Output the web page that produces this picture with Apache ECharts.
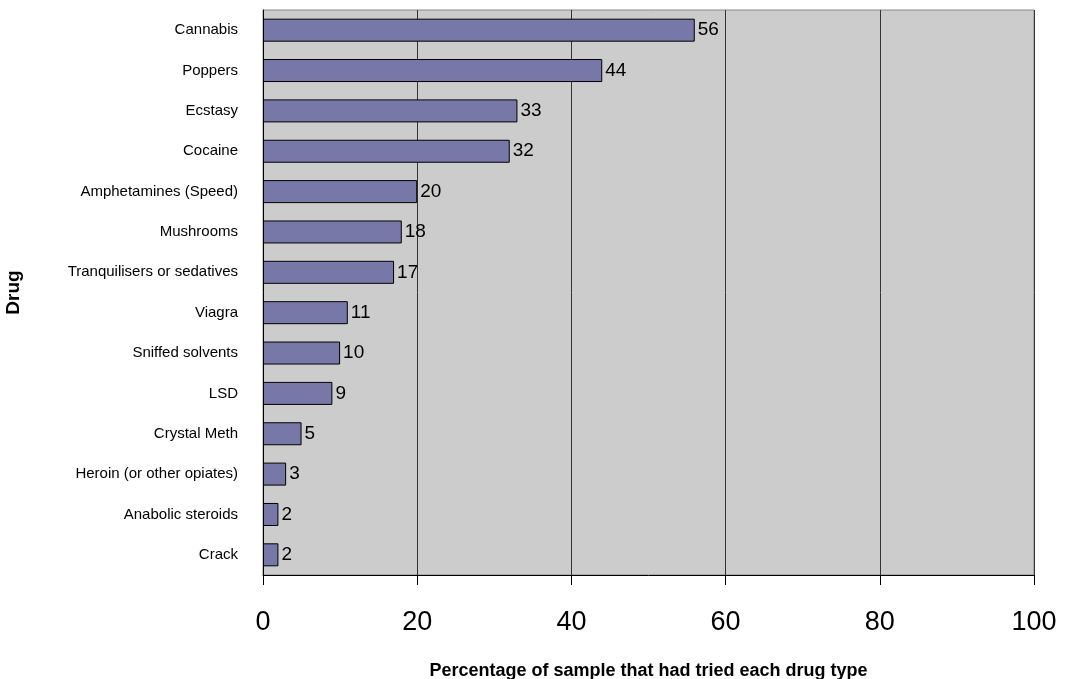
<!DOCTYPE html>
<html>
<head>
<meta charset="utf-8">
<script src="https://cdn.jsdelivr.net/npm/echarts@6/dist/echarts.min.js"></script>
<style>
html,body{margin:0;padding:0;background:#fff;}
#chart{width:1065px;height:679px;}
</style>
</head>
<body>
<div id="chart"></div>
<script>
const categories = ["Cannabis","Poppers","Ecstasy","Cocaine","Amphetamines (Speed)","Mushrooms","Tranquilisers or sedatives","Viagra","Sniffed solvents","LSD","Crystal Meth","Heroin (or other opiates)","Anabolic steroids","Crack"];
const values = [56,44,33,32,20,18,17,11,10,9,5,3,2,2];
const xTicks = [0,20,40,60,80,100];
const xTitle = "Percentage of sample that had tried each drug type";
const yTitle = "Drug";

const chart = echarts.init(document.getElementById('chart'));
chart.setOption({
  animation: false,
  backgroundColor: '#ffffff',
  textStyle: {fontFamily: 'Liberation Sans, Arial, sans-serif'},
  grid: {
    left: 263, right: 31, top: 10, bottom: 104,
    outerBoundsMode: 'none', containLabel: false,
    show: true, backgroundColor: '#cccccc', borderColor: '#888888', borderWidth: 1
  },
  xAxis: {
    type: 'value', min: xTicks[0], max: xTicks[xTicks.length-1], interval: 20,
    name: xTitle, nameLocation: 'middle', nameGap: 87,
    nameTextStyle: {fontSize: 18, fontWeight: 'bold', color: '#000'},
    axisLine: {show: true, lineStyle: {color: '#000', width: 1}},
    axisTick: {show: true, length: 10, lineStyle: {color: '#000'}},
    axisLabel: {fontSize: 27, color: '#000', margin: 34},
    splitLine: {show: true, lineStyle: {color: '#333333', width: 1}}
  },
  yAxis: {
    type: 'category', data: categories, inverse: true,
    name: yTitle, nameLocation: 'middle', nameGap: 240, nameRotate: 90,
    nameTextStyle: {fontSize: 19, fontWeight: 'bold', color: '#000'},
    axisLine: {show: true, lineStyle: {color: '#000', width: 1}},
    axisTick: {show: false},
    axisLabel: {fontSize: 15, color: '#000', margin: 25, padding: [0, 0, 7, 0]},
    splitLine: {show: false}
  },
  series: [{
    type: 'bar', data: values, barWidth: 23,
    itemStyle: {color: '#7878a8', borderColor: '#000', borderWidth: 1},
    label: {show: true, position: 'right', distance: 3, fontSize: 19, color: '#000'}
  }]
});
</script>
</body>
</html>
